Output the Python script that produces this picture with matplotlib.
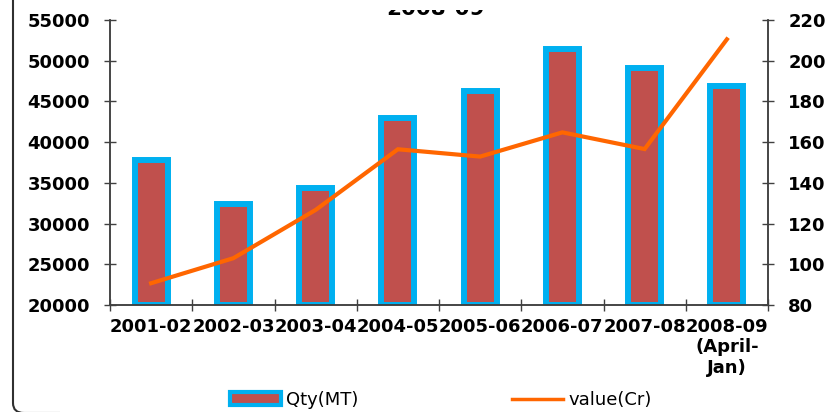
import matplotlib
matplotlib.use("Agg")
import matplotlib.pyplot as plt
from matplotlib.patches import Patch, PathPatch, Rectangle
from matplotlib.path import Path
from matplotlib.lines import Line2D
from matplotlib.transforms import IdentityTransform

# data
years = ["2001-02", "2002-03", "2003-04", "2004-05", "2005-06",
         "2006-07", "2007-08", "2008-09\n(April-\nJan)"]
qty_mt = [37750, 32400, 34370, 42970, 46280, 51380, 49100, 46930]
value_cr = [90.7, 103, 126.7, 156.5, 152.9, 164.8, 156.6, 210.5]
left_ticks = [20000, 25000, 30000, 35000, 40000, 45000, 50000, 55000]
right_ticks = [80, 100, 120, 140, 160, 180, 200, 220]

bar_red = "#C0504D"
bar_blue = "#00B0F0"
line_orange = "#FF6600"
spine_col = "#404040"

fig = plt.figure(figsize=(8.4, 4.12), dpi=100)
ax = fig.add_axes([110 / 840, 1 - 305 / 412, 658 / 840, 285 / 412])
ax2 = ax.twinx()

x = list(range(len(years)))
ax.bar(x, [q - 20000 for q in qty_mt], bottom=20000, width=0.40,
       color=bar_red, edgecolor=bar_blue, linewidth=4.3, zorder=2)
ax2.plot(x, value_cr, color=line_orange, linewidth=3, solid_joinstyle="miter")

ax.set_xlim(-0.5, len(years) - 0.5)
ax.set_ylim(20000, 55000)
ax2.set_ylim(80, 220)
ax.set_yticks(left_ticks)
ax2.set_yticks(right_ticks)
ax.set_xticks([i - 0.5 for i in range(len(years) + 1)])
ax.set_xticklabels([])
ax.set_xticks(x, minor=True)
ax.set_xticklabels(years, minor=True)

for a in (ax, ax2):
    a.spines["top"].set_visible(False)
    for s in a.spines.values():
        s.set_color(spine_col)
        s.set_linewidth(1.1)
    for lbl in a.get_yticklabels():
        lbl.set_fontweight("bold")
        lbl.set_fontsize(13)

ax.tick_params(axis="y", direction="inout", length=9, width=1, color=spine_col, pad=10)
ax2.tick_params(axis="y", direction="inout", length=9, width=1, color=spine_col, pad=10)
ax.tick_params(axis="x", which="major", direction="inout", length=9, width=1, color=spine_col)
ax.tick_params(axis="x", which="minor", length=0, pad=9)
for lbl in ax.get_xticklabels(minor=True):
    lbl.set_fontweight("bold")
    lbl.set_fontsize(13)
    lbl.set_verticalalignment("top")

# title, only its lower edge shows in the picture
fig.text(435 / 840, 1 - 15 / 412, "2008-09", ha="center", va="baseline",
         fontsize=15.5, fontweight="bold", zorder=3)
fig.add_artist(Rectangle((300, 402), 300, 20, transform=IdentityTransform(),
                         facecolor="white", edgecolor="none", zorder=5))

# left edge of the rounded chart frame
frame_path = Path([(13, 500), (13, 9), (13, -1), (24, -1), (60, -1)],
                  [Path.MOVETO, Path.LINETO, Path.CURVE3, Path.CURVE3, Path.LINETO])
fig.add_artist(PathPatch(frame_path, transform=IdentityTransform(), facecolor="none",
                         edgecolor="#303030", linewidth=1.5))

handles = [Patch(facecolor=bar_red, edgecolor=bar_blue, linewidth=3),
           Line2D([], [], color=line_orange, linewidth=2.5)]
fig.legend(handles, ["Qty(MT)", "value(Cr)"], loc="center",
           bbox_to_anchor=(441 / 840, 1 - 400 / 412), ncol=2, frameon=False,
           fontsize=13, handlelength=2.8, handletextpad=0.3, columnspacing=8.5)

fig.savefig("out.png", dpi=100)
